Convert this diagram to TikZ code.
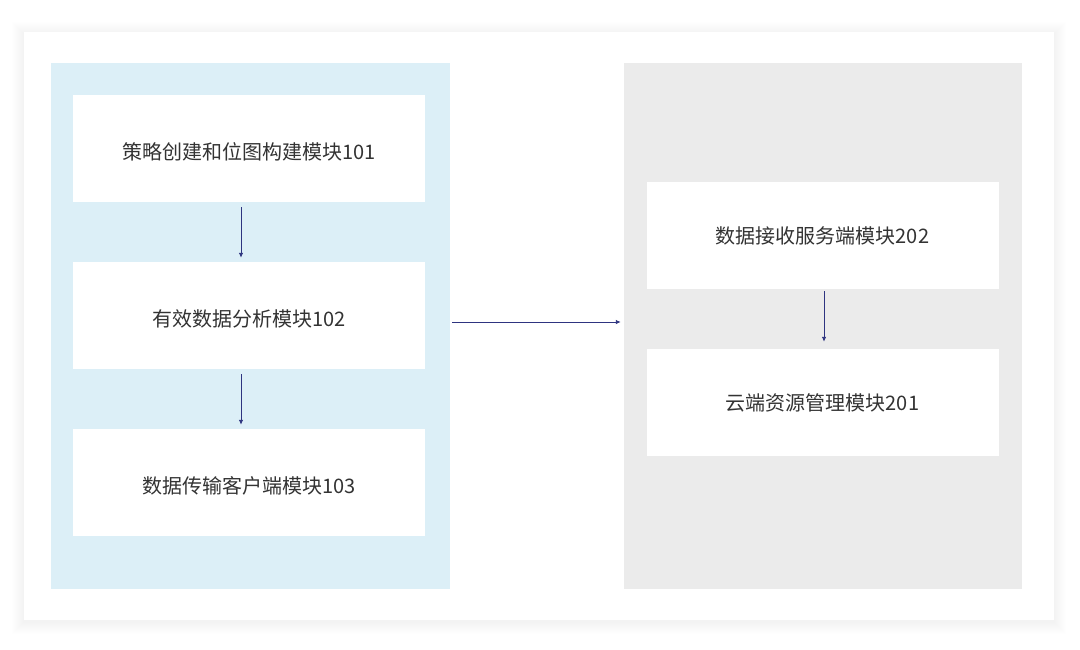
\documentclass[tikz,border=0pt]{standalone}
\usepackage{fontspec}
\usepackage{tikz}
\usetikzlibrary{arrows.meta}
\newfontfamily\cjk{Noto Sans CJK SC}

\definecolor{panelblue}{HTML}{DCEFF7}
\definecolor{panelgray}{HTML}{EBEBEB}
\definecolor{flowblue}{HTML}{2E3480}
\definecolor{textgray}{HTML}{333333}

\tikzset{
    modbox/.style={fill=white, minimum width=352pt, minimum height=107pt,
        inner sep=0pt, text height=22pt, text depth=0pt,
        font=\cjk\fontsize{20}{24}\selectfont, text=textgray},
    cloudbox/.style={modbox, text height=16pt},
    flow/.style={draw=flowblue, line width=0.9pt, -{Latex[length=5pt,width=4.5pt]}}
}

\begin{document}
\begin{tikzpicture}[x=1pt, y=-1pt]
        \useasboundingbox (0,0) rectangle (1080,649);
        \fill[white] (0,0) rectangle (1080,649);

        % card with soft shadow
        \foreach \i in {1,...,12}
            \fill[black, opacity=0.004] (24-\i,32-\i+2) rectangle (1054+\i,620+\i+2);
        \fill[white] (24,32) rectangle (1054,620);

        \node[fill=panelblue, minimum width=399pt, minimum height=526pt, inner sep=0pt] (lp) at (250.5,326) {};
        \node[fill=panelgray, minimum width=398pt, minimum height=526pt, inner sep=0pt] (rp) at (823,326) {};

        \node[modbox] (m101) at (249,148.5) {策略创建和位图构建模块101};
        \node[modbox] (m102) at (249,315.5) {有效数据分析模块102};
        \node[modbox] (m103) at (249,482.5) {数据传输客户端模块103};

        \node[cloudbox] (m202) at (822.5,235.5) {数据接收服务端模块202};
        \node[cloudbox] (m201) at (822.5,402.5) {云端资源管理模块201};

        \draw[flow] ([xshift=-8pt]m101.south) ++(0,5) -- ([xshift=-8pt,yshift=4pt]m102.north);
        \draw[flow] ([xshift=-8pt]m102.south) ++(0,5) -- ([xshift=-8pt,yshift=4pt]m103.north);
        \draw[flow] ([xshift=2pt,yshift=4pt]lp.east) -- ([xshift=-3pt,yshift=4pt]rp.west);
        \draw[flow] ([xshift=1.5pt]m202.south) ++(0,2) -- ([xshift=1.5pt,yshift=7pt]m201.north);
\end{tikzpicture}
\end{document}
